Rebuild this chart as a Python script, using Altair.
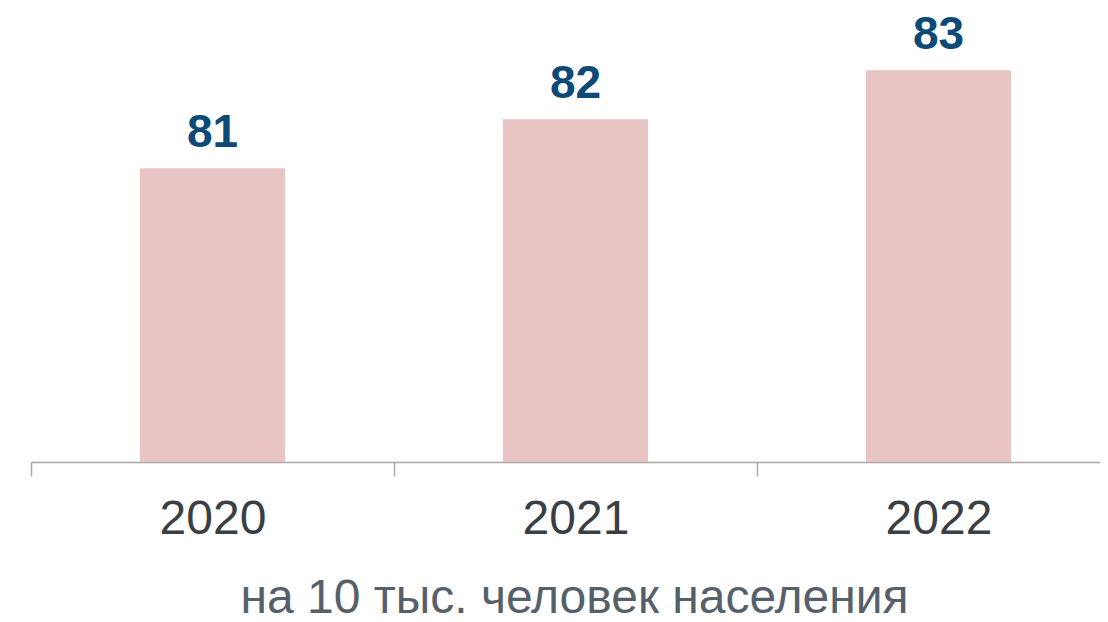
import altair as alt
import pandas as pd

years = ["2020", "2021", "2022"]
values = [81, 82, 83]

df = pd.DataFrame({"year": years, "value": values})

xscale = alt.Scale(domain=years, range=[0, 1089], paddingInner=0, paddingOuter=0)
yscale = alt.Scale(domain=[75, 84.27], zero=False, nice=False)

bars = alt.Chart(df).mark_bar(
    color="#e8c4c4", width=alt.RelativeBandSize(0.4)
).encode(
    x=alt.X(
        "year:N",
        scale=xscale,
        sort=years,
        axis=alt.Axis(
            title="на 10 тыс. человек населения",
            labelAngle=0,
            labelFont="Liberation Sans",
            labelFontSize=48,
            labelColor="#3a3f46",
            labelPadding=19,
            tickBand="extent",
            tickSize=14,
            tickColor="#a8a8a8",
            tickWidth=1.5,
            domainColor="#a8a8a8",
            domainWidth=1.5,
            titleFont="Liberation Sans",
            titleFontSize=48,
            titleFontWeight="normal",
            titleColor="#56606b",
            titleX=543,
            titleY=150,
            titleBaseline="alphabetic",
            titleAnchor="middle",
            titleAlign="center",
        ),
    ),
    y=alt.Y("value:Q", scale=yscale, axis=None),
    y2=alt.datum(75),
)

labels = alt.Chart(df).mark_text(
    dy=-21,
    baseline="alphabetic",
    align="center",
    font="Liberation Sans",
    fontSize=46,
    fontWeight="bold",
    color="#0d4a78",
).encode(
    x=alt.X("year:N", scale=xscale, sort=years),
    y=alt.Y("value:Q", scale=yscale, axis=None),
    text=alt.Text("value:Q"),
)

chart = alt.layer(bars, labels).properties(
    width=1069,
    height=454,
    background="white",
    autosize=alt.AutoSizeParams(type="none"),
    padding={"left": 23, "top": 0, "right": 0, "bottom": 160},
).configure_view(stroke="transparent", strokeWidth=0)

chart.save("out.html", embed_options={"renderer": "svg", "actions": False})
